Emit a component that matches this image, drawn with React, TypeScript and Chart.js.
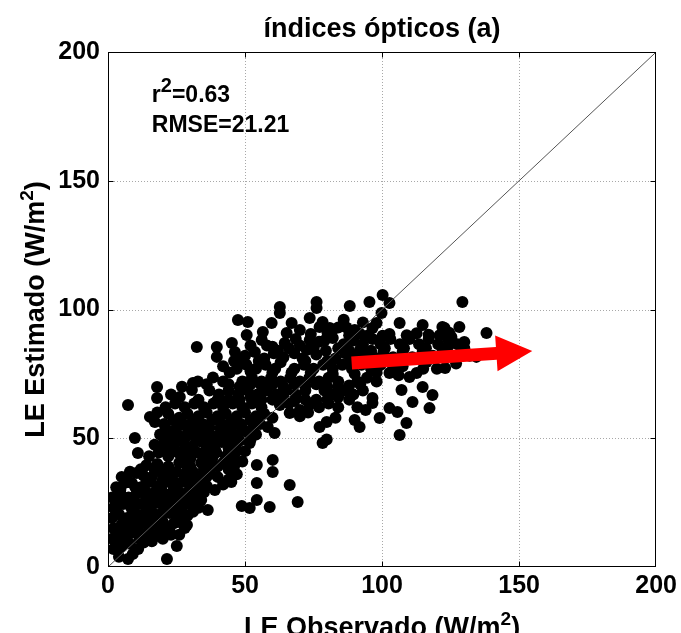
import React, { useEffect, useRef } from 'react';
import { Chart, registerables } from 'chart.js';

Chart.register(...registerables);

// ---------- data ----------
const tituloGrafico = 'índices ópticos (a)';
const rotuloX = ['LE Observado (W/m', '2', ')'];
const rotuloY = ['LE Estimado (W/m', '2', ')'];
const textoR2 = ['r', '2', '=0.63'];
const textoRMSE = ['RMSE=21.21'];
const valoresEixo = [0, 50, 100, 150, 200];
const linhaUmX = [0, 200];
const linhaUmY = [0, 200];
const setaX = [88.9, 154.8];
const setaY = [79.2, 83.9];

// [LE observado, LE estimado]
const pontosBase: [number, number][] = [
  [7.3, 3.1], [4, 4], [9, 5], [21.5, 3.1],
  [2, 7], [5, 8], [8, 9], [11, 7], [25.1, 8.2], [3, 9.5], [6.5, 10.5], [13, 9.5], [16, 10],
  [1.5, 11], [4.5, 12], [8, 13], [11.5, 11], [14, 13], [17, 12], [20, 11], [23, 12.5], [6, 13.5], [3.5, 14], [11, 14], [19, 14], [22.5, 14], [26, 12.5],
  [2, 15], [5, 16.5], [9, 15.5], [12, 17], [15, 15], [18, 16.5], [21, 15], [24, 17], [28, 15.1], [28.8, 16.3], [10, 17.5], [7, 17.5], [16, 18], [20, 17.5], [26, 17.5],
  [1.5, 19], [4, 20.5], [7, 19], [10.5, 20.5], [13.5, 19], [16.5, 21], [19.5, 19.5], [22.5, 21], [25.5, 19], [29, 20], [14, 21.5], [3, 21.5], [9, 21.5], [20, 21.5], [25, 21.5], [31, 21.5],
  [2, 23], [5.5, 24.5], [8.5, 23], [12, 24.5], [15, 23], [18, 25], [21, 23], [24, 24.5], [27, 23], [30, 24.5], [33, 23], [27, 25], [3.5, 25.5], [9.5, 25.5], [16, 26], [22, 26], [28, 26.5], [34, 26],
  [1.5, 27], [4.5, 28.5], [7.5, 27], [10.5, 28.5], [14, 27], [17, 29], [20, 27], [23, 28.5], [26, 27], [29, 29], [32, 27], [35, 29], [6, 26], [31, 29],
  [4.5, 30], [13.5, 29.5], [19.5, 30], [25.5, 29.5], [33.5, 30],
  [3, 31], [6, 32.6], [8.7, 32.6], [12, 31], [15, 33], [18, 31.5], [21, 33], [24, 31], [27, 33], [30, 31.5], [33, 33], [36, 31.5], [10, 31], [42, 32], [45, 33],
  [7, 34], [14, 33.5], [23.5, 34], [29, 33],
  [5, 35], [8, 37], [12.8, 35.7], [16, 35], [19, 37], [22, 35.5], [25, 37], [28, 35], [31, 37], [34, 35.5], [37, 37], [40, 35], [44, 34], [47, 36], [20, 34], [30, 35], [17, 38], [36, 35], [10.5, 36.5],
  [12, 38], [14, 39.5], [18, 40], [22, 39], [26, 40.5], [30, 39], [34, 40.5], [38, 39], [42, 40.5], [46, 39], [49, 41], [21, 38], [29, 38], [35, 38], [40, 39], [44, 38],
];

const pontosDispersos: [number, number][] = [
  [36.4, 22.1], [39, 29.9], [48.8, 23.7], [51.7, 22.9], [54.3, 26], [59, 23.3], [69.2, 25.2], [66.3, 31.8],
  [54.3, 32.6], [60.1, 36.9], [54.3, 39.6], [60.1, 41.6], [51.7, 48.2], [78.3, 48.2], [79.8, 49.5],
  [10.9, 44.3], [9.8, 50.1], [7.3, 62.9],
];

const pontosMeio: [number, number][] = [
  [15, 43], [18.5, 44.5], [22, 43], [25.5, 44.5], [29, 43], [32.5, 44.5], [36, 43], [39.5, 44.5], [43, 43], [46.5, 44.5], [50, 45],
  [30, 42], [38, 42], [46, 42], [20, 46], [28, 46], [36, 46], [44, 46],
  [27, 41.5], [35, 41.5], [43, 41], [23, 45.5], [31, 45], [39, 45.5], [47, 45.5],
  [17, 47.5], [20.5, 48.5], [24, 47], [27.5, 48.5], [31, 47], [34.5, 48.5], [38, 47], [41.5, 48.5], [45, 47],
  [24, 50], [32, 50], [40, 50], [48, 49], [22, 50], [28, 50], [36, 50], [44, 50], [52, 49.5],
  [19, 51.5], [22.5, 52.5], [26, 51], [29.5, 52.5], [33, 51], [36.5, 52.5], [40, 51], [43.5, 52.5], [47, 51], [50.5, 52.5], [54, 51.5],
  [25, 54], [33, 54], [41, 54], [49, 54], [21, 54], [29, 54], [37, 54], [45, 54], [53, 54],
  [15.3, 58.3], [17.1, 56.3], [20.5, 55.5], [24, 57], [27.5, 55.5], [31, 57], [34.5, 55.5], [38, 57], [41.5, 55.5], [45, 57],
  [48.5, 55.5], [52, 57], [55.5, 55.5], [58.3, 54.4], [60.8, 52], [66.3, 59.8], [77.2, 54.4], [79.8, 56.3],
  [22, 59.5], [29, 59.5], [36, 60], [43, 59.5], [50, 60], [57, 59.5], [70, 58.5], [73, 60], [83, 58],
  [18, 60], [26, 58], [33, 58.5], [40, 58.5], [47, 58.5], [54, 58.5], [60, 58],
  [90, 57.1], [91.8, 54.4], [99.1, 57.9], [108.9, 55.9], [106.4, 51.3],
];

const pontosSuperiores: [number, number][] = [
  [21, 62], [24.5, 63.5], [28, 62], [31.5, 63.5], [35, 62], [38.5, 63.5], [42, 62], [45.5, 63.5], [49, 62], [52.5, 63.5],
  [56, 62], [62.7, 62.9], [66, 63.5], [70, 61], [73.5, 63], [77, 62], [80.5, 63.5], [84, 62], [91, 62],
  [96.5, 63.7], [102.7, 61.7], [105.6, 60.2], [111.1, 64.1], [117.3, 61.7],
  [44, 65], [52, 66], [60, 65], [68, 64.5], [76, 65], [88, 65], [94, 61],
  [25, 65], [33, 65], [40, 65], [48, 65], [56, 65], [64, 66], [72, 65], [80, 65], [84, 66],
  [17.9, 65.6], [17.9, 69.9], [23, 67], [26.2, 66], [30.6, 68.7], [37, 68.5], [40.5, 67], [44, 68.5], [47.5, 67],
  [51, 68.5], [54.5, 67], [58, 68.5], [61.5, 67], [65, 68.5], [68.5, 67], [72, 68.5], [79, 68.5], [82.5, 67],
  [86, 68.5], [89.5, 67], [93, 68.5], [96.5, 65.6], [107.1, 68.7], [114.8, 69.9], [118.4, 66.8],
  [48, 70], [56, 70.5], [64, 70], [72, 70.5], [80, 70], [88, 70.5],
  [27, 70], [36, 71], [44, 71], [52, 71], [60, 71], [68, 71], [76, 71], [84, 70], [92, 71],
  [31, 71.5], [32.8, 72], [38.3, 73.6], [42, 72], [49, 72], [52.5, 73.5], [56, 72], [59.5, 73.5], [63, 72],
  [66.5, 73.5], [70, 72], [73.5, 73.5], [77, 72], [80.5, 73.5], [84, 72], [91, 72], [94.5, 73.5], [98, 72],
  [102.7, 75.3], [110, 73.8], [112.6, 75.3],
  [52, 76], [60, 75.5], [67, 75.5], [74, 75.5], [82, 75], [90, 75], [98, 75.5], [106, 74.5],
  [42, 78], [44.4, 75.5], [47, 77], [50.5, 78.5], [54, 77], [57.5, 78.5], [61, 77], [68, 77], [71.5, 78.5],
  [75, 77], [78.5, 78.5], [82, 77], [85.5, 78.5], [89, 77], [92.5, 78.5], [96, 77], [99.5, 78.5], [104, 77],
  [107.5, 78], [116.2, 79.6], [120, 77], [123, 77.3], [127, 79], [115, 77],
  [46, 80], [55, 80], [63, 79.5], [72, 80], [80, 80], [88, 79.5], [95, 80], [101, 80], [108, 80.5],
];

const pontosTopo: [number, number][] = [
  [32.4, 85.4], [39.7, 85.4], [39.7, 81.6], [45.2, 87], [46.3, 83.5], [47, 80.4], [49.2, 80.4], [50, 82], [53.6, 83.5],
  [56.1, 88.2], [57, 81], [60.5, 83], [60, 85.5], [64.5, 87], [64, 81.5], [68, 83], [68.5, 88.5], [71, 81], [72.5, 84.3],
  [73.6, 88.2], [76, 82.5], [77, 87.5], [79.5, 84], [82, 88.9], [80.1, 90.9], [83, 81], [86.5, 83], [90, 81.5],
  [93.5, 83.5], [97, 81.5], [100.5, 83.5], [104, 81.5], [107.5, 83.5], [111, 81.5], [114.8, 83.5], [118.5, 82],
  [122, 83.5], [125.5, 82], [129, 83.5], [132, 82], [134.4, 81.6],
  [58, 86], [66, 85], [75, 85], [84, 85], [92, 84.5], [101, 85], [108, 85], [116, 85], [124, 85.5],
  [52, 86], [62, 84], [70, 86], [79, 88], [88, 84], [96, 84],
  [86, 86.5], [89.5, 88], [93, 86.5], [96.5, 88.5], [99.5, 86.5], [103, 88.5], [106.5, 86.5], [110, 88.5],
  [113.5, 86.5], [117, 88.5], [120.5, 86.5], [124, 88.5], [127.5, 86.5], [130, 85], [125.3, 89.3], [130, 87.4],
  [100.2, 89.8], [102.7, 90.5], [109, 90], [112.6, 90.8], [117, 90.2], [121, 90], [124.5, 91],
  [47.4, 95.9], [51, 95.1], [50.6, 90.1], [56.5, 91.3], [59.7, 94.8], [65.2, 90.9], [67, 94.8], [62.7, 98.6],
  [62.7, 101], [70, 92], [74, 90.5], [73.6, 96.7], [77.2, 93.2], [78.3, 95.1], [76.1, 100.6], [76.1, 102.9],
  [80.9, 92.8], [82, 92], [84, 93], [86, 96], [88, 90], [90, 92], [92, 90.5], [93, 95], [88.2, 101.4], [87, 93], [95, 90],
  [95.4, 102.9], [100.2, 105.6], [102.7, 102.5], [99.8, 98.6], [98, 94.8], [96.5, 92.8], [106.4, 94.8],
  [114.8, 94], [122, 93.2], [122.8, 92.8], [128.2, 93.2], [129.3, 102.9], [138.1, 90.9],
];

// ---------- styling ----------
const FONTE = '"Liberation Sans", Arial, Helvetica, sans-serif';

function desenhaRico(ctx: CanvasRenderingContext2D, partes: string[], x: number, y: number, tam: number, alinhar: 'left' | 'center', escalaSup = 0.72) {
  const fBase = `bold ${tam}px ${FONTE}`;
  const fSup = `bold ${Math.round(tam * escalaSup)}px ${FONTE}`;
  const larg = partes.map((p, i) => {
    ctx.font = i % 2 === 1 ? fSup : fBase;
    return ctx.measureText(p).width;
  });
  const total = larg.reduce((a, b) => a + b, 0);
  let cx = alinhar === 'center' ? x - total / 2 : x;
  ctx.textAlign = 'left';
  ctx.textBaseline = 'alphabetic';
  partes.forEach((p, i) => {
    ctx.font = i % 2 === 1 ? fSup : fBase;
    ctx.fillText(p, cx, i % 2 === 1 ? y - tam * 0.42 : y);
    cx += larg[i];
  });
}

const estiloMatlab = {
  id: 'estiloMatlab',
  beforeDatasetsDraw(chart: any) {
    const { ctx, chartArea: a, scales } = chart;
    const sx = scales.x, sy = scales.y;
    ctx.save();
    ctx.strokeStyle = '#a8a8a8';
    ctx.lineWidth = 1;
    ctx.setLineDash([1, 2]);
    valoresEixo.slice(1, -1).forEach((v) => {
      const px = Math.round(sx.getPixelForValue(v)) + 0.5;
      ctx.beginPath(); ctx.moveTo(px, a.top); ctx.lineTo(px, a.bottom); ctx.stroke();
      const py = Math.round(sy.getPixelForValue(v)) + 0.5;
      ctx.beginPath(); ctx.moveTo(a.left, py); ctx.lineTo(a.right, py); ctx.stroke();
    });
    ctx.restore();
  },
  afterDatasetsDraw(chart: any) {
    const { ctx, chartArea: a, scales } = chart;
    const sx = scales.x, sy = scales.y;

    // red arrow
    const x0 = sx.getPixelForValue(setaX[0]), y0 = sy.getPixelForValue(setaY[0]);
    const x1 = sx.getPixelForValue(setaX[1]), y1 = sy.getPixelForValue(setaY[1]);
    const ang = Math.atan2(y1 - y0, x1 - x0);
    const L = Math.hypot(x1 - x0, y1 - y0);
    const cab = 36, cabW = 18, hasteW = 6.5;
    ctx.save();
    ctx.translate(x0, y0);
    ctx.rotate(ang);
    ctx.beginPath();
    ctx.moveTo(0, -hasteW);
    ctx.lineTo(L - cab, -hasteW);
    ctx.lineTo(L - cab, -cabW);
    ctx.lineTo(L, 0);
    ctx.lineTo(L - cab, cabW);
    ctx.lineTo(L - cab, hasteW);
    ctx.lineTo(0, hasteW);
    ctx.closePath();
    ctx.fillStyle = '#ff0000';
    ctx.fill();
    ctx.restore();

    // box and inward ticks
    ctx.save();
    ctx.strokeStyle = '#000';
    ctx.lineWidth = 1;
    const l = Math.round(a.left) + 0.5, r = Math.round(a.right) - 0.5;
    const t = Math.round(a.top) + 0.5, b = Math.round(a.bottom) - 0.5;
    ctx.strokeRect(l, t, r - l, b - t);
    const tk = 5;
    valoresEixo.slice(1, -1).forEach((v) => {
      const px = Math.round(sx.getPixelForValue(v)) + 0.5;
      ctx.beginPath();
      ctx.moveTo(px, b); ctx.lineTo(px, b - tk);
      ctx.moveTo(px, t); ctx.lineTo(px, t + tk);
      const py = Math.round(sy.getPixelForValue(v)) + 0.5;
      ctx.moveTo(l, py); ctx.lineTo(l + tk, py);
      ctx.moveTo(r, py); ctx.lineTo(r - tk, py);
      ctx.stroke();
    });
    ctx.restore();

    // texts
    ctx.save();
    ctx.fillStyle = '#000';
    const cxArea = (a.left + a.right) / 2;
    ctx.font = `bold 27px ${FONTE}`;
    ctx.textAlign = 'center';
    ctx.textBaseline = 'alphabetic';
    ctx.fillText(tituloGrafico, cxArea, 37);

    desenhaRico(ctx, textoR2, sx.getPixelForValue(16), 102, 23, 'left', 0.85);
    desenhaRico(ctx, textoRMSE, sx.getPixelForValue(16), 132, 23, 'left');

    desenhaRico(ctx, rotuloX, cxArea, 636, 27, 'center');

    ctx.save();
    ctx.translate(44, (a.top + a.bottom) / 2);
    ctx.rotate(-Math.PI / 2);
    desenhaRico(ctx, rotuloY, 0, 0, 27, 'center');
    ctx.restore();
    ctx.restore();
  },
};

export default function App() {
  const ref = useRef<HTMLCanvasElement | null>(null);

  useEffect(() => {
    if (!ref.current) return;
    const todos = [...pontosBase, ...pontosDispersos, ...pontosMeio, ...pontosSuperiores, ...pontosTopo];
    const tickFont = { family: FONTE, size: 25, weight: 'bold' as const };
    const chart = new Chart(ref.current, {
      type: 'scatter',
      data: {
        datasets: [
          {
            type: 'line',
            data: linhaUmX.map((x, i) => ({ x, y: linhaUmY[i] })),
            borderColor: '#555',
            borderWidth: 1,
            pointRadius: 0,
            fill: false,
            order: 0,
          } as any,
          {
            type: 'scatter',
            data: todos.map(([x, y]) => ({ x, y })),
            backgroundColor: '#000',
            borderColor: '#000',
            borderWidth: 0,
            pointRadius: 6,
            pointHoverRadius: 6,
            order: 1,
          },
        ],
      },
      options: {
        animation: false,
        responsive: false,
        devicePixelRatio: 1,
        events: [],
        layout: { padding: { top: 52, right: 24, left: 0, bottom: 0 } },
        plugins: { legend: { display: false }, tooltip: { enabled: false }, title: { display: false } },
        scales: {
          x: {
            type: 'linear',
            position: 'bottom',
            min: 0,
            max: 200,
            ticks: { stepSize: 50, color: '#000', font: tickFont, padding: 4, maxRotation: 0 },
            grid: { display: false, drawTicks: false },
            border: { display: false },
            afterFit: (s: any) => { s.height = 66; },
          },
          y: {
            type: 'linear',
            position: 'left',
            min: 0,
            max: 200,
            ticks: { stepSize: 50, color: '#000', font: tickFont, padding: 8 },
            grid: { display: false, drawTicks: false },
            border: { display: false },
            afterFit: (s: any) => { s.width = 108; },
          },
        },
      },
      plugins: [estiloMatlab],
    });
    return () => chart.destroy();
  }, []);

  return (
    <div style={{ position: 'absolute', left: 0, top: 0, width: 681, height: 633, background: '#fff' }}>
      <canvas ref={ref} width={681} height={633} style={{ display: 'block' }} />
    </div>
  );
}
